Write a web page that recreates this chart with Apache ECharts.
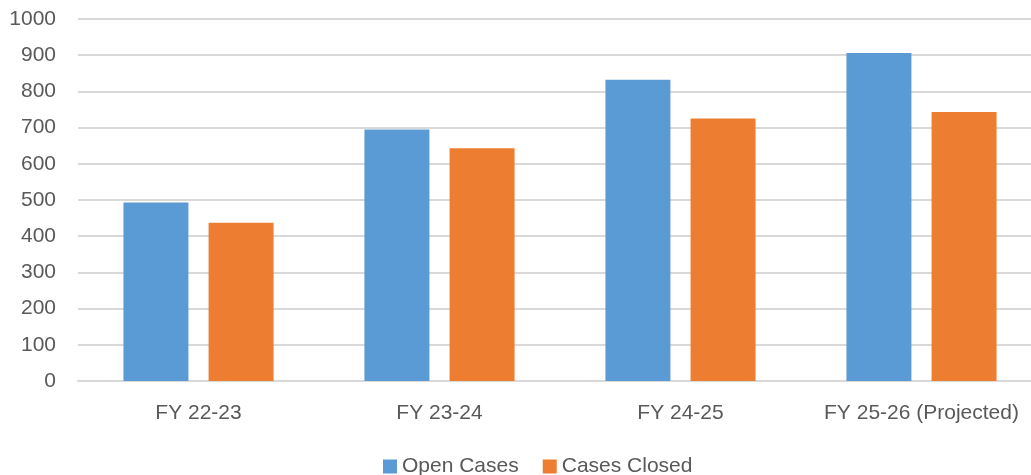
<!DOCTYPE html>
<html>
<head>
<meta charset="utf-8">
<style>
  html, body { margin: 0; padding: 0; background: #ffffff; overflow: hidden; }
  #chart { width: 1042px; height: 475px; }
</style>
<script src="https://cdn.jsdelivr.net/npm/echarts@6/dist/echarts.min.js"></script>
</head>
<body>
<div id="chart"></div>
<script>
// Case counts by fiscal year
const categories = ['FY 22-23', 'FY 23-24', 'FY 24-25', 'FY 25-26 (Projected)'];
const openCases = [493, 695, 832, 906];
const casesClosed = [437, 643, 725, 743];
const yTicks = { min: 0, max: 1000, interval: 100 };

const FONT = '"Liberation Sans", Arial, sans-serif';
const TEXT = '#595959';
const GRID = '#d9d9d9';

const chart = echarts.init(document.getElementById('chart'), null, { renderer: 'canvas' });
chart.setOption({
  animation: false,
  backgroundColor: '#ffffff',
  grid: { left: 78, top: 19, right: 0, height: 362, containLabel: false },
  legend: {
    top: 456,
    left: 383,
    padding: 0,
    itemWidth: 14,
    itemHeight: 14,
    itemGap: 24,
    icon: 'rect',
    textStyle: { color: TEXT, fontSize: 21, fontFamily: FONT },
    data: ['Open Cases', 'Cases Closed']
  },
  xAxis: {
    type: 'category',
    data: categories,
    axisLine: { show: true, lineStyle: { color: GRID, width: 2 } },
    axisTick: { show: false },
    axisLabel: { color: TEXT, fontSize: 21, fontFamily: FONT, margin: 22, interval: 0 }
  },
  yAxis: {
    type: 'value',
    min: yTicks.min,
    max: yTicks.max,
    interval: yTicks.interval,
    axisLine: { show: false },
    axisTick: { show: false },
    splitLine: { lineStyle: { color: GRID, width: 2 } },
    axisLabel: {
      color: TEXT, fontSize: 21, fontFamily: FONT, margin: 22,
      formatter: (v) => String(v)
    }
  },
  series: [
    {
      name: 'Open Cases',
      type: 'bar',
      data: openCases,
      barWidth: 65,
      barGap: '31%',
      itemStyle: { color: '#5b9bd5' }
    },
    {
      name: 'Cases Closed',
      type: 'bar',
      data: casesClosed,
      barWidth: 65,
      barGap: '31%',
      itemStyle: { color: '#ed7d31' }
    }
  ]
});
</script>
</body>
</html>
